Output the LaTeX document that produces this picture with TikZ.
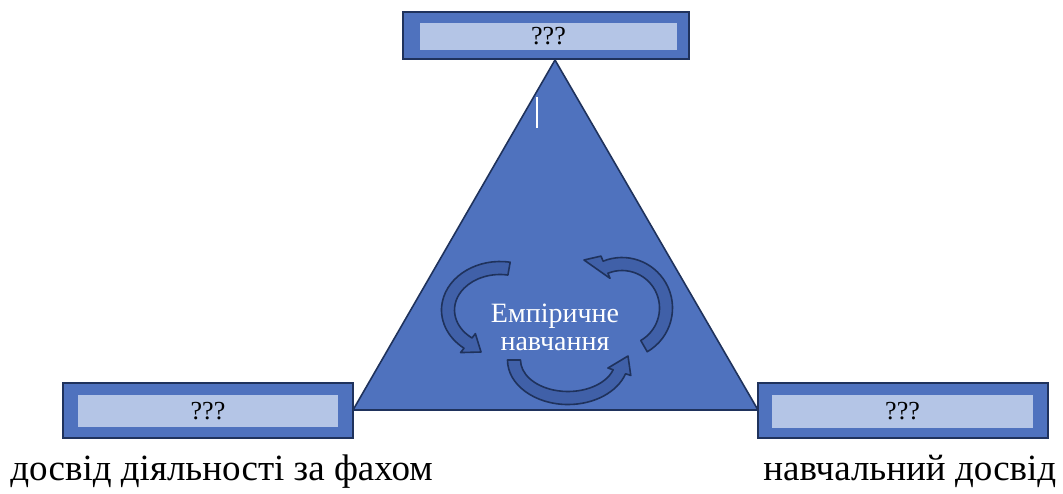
\documentclass[tikz,border=0pt]{standalone}
\usepackage{fontspec}
\setmainfont{Liberation Serif}
\newfontfamily\timesfont{Liberation Serif}
\definecolor{triblue}{RGB}{79,114,190}
\definecolor{paleblue}{RGB}{180,197,230}
\definecolor{navyline}{RGB}{31,50,92}
\definecolor{arrowblue}{RGB}{64,96,168}

% curved block arrow: centre x, centre y, x radius, y radius, start, end, tip
\newcommand{\cyclearrow}[7]{%
  \pgfmathsetmacro\rxo{#3+6.5}\pgfmathsetmacro\ryo{#4+6.5}%
  \pgfmathsetmacro\rxi{#3-6.5}\pgfmathsetmacro\ryi{#4-6.5}%
  \filldraw[cycarrow] ({#1+\rxo*cos(#5)},{#2+\ryo*sin(#5)})
    arc[start angle=#5, end angle=#6, x radius=\rxo, y radius=\ryo]
    -- ({#1+(#3+12)*cos(#6)},{#2+(#4+12)*sin(#6)}) -- #7
    -- ({#1+(#3-12)*cos(#6)},{#2+(#4-12)*sin(#6)})
    -- ({#1+\rxi*cos(#6)},{#2+\ryi*sin(#6)})
    arc[start angle=#6, end angle=#5, x radius=\rxi, y radius=\ryi] -- cycle;}

\begin{document}
\begin{tikzpicture}[x=0.5pt,y=-0.5pt,
    outerbox/.style={draw=navyline, line width=1.2pt, fill=triblue, inner sep=0pt},
    innerbox/.style={fill=paleblue, inner sep=0pt, font=\timesfont\fontsize{13}{15}\selectfont},
    caption/.style={anchor=base west, inner sep=0pt, font=\timesfont\fontsize{18.5}{21}\selectfont},
    cycarrow/.style={fill=arrowblue, draw=navyline, line width=0.8pt, line join=round}]
    \useasboundingbox (0,0) rectangle (1063,493);
    % triangle
    \coordinate (apex) at (555,60);
    \coordinate (baseL) at (353,410);
    \coordinate (baseR) at (758,410);
    \filldraw[fill=triblue, draw=navyline, line width=0.8pt] (apex) -- (baseL) -- (baseR) -- cycle;
    \draw[white, line width=1pt] (537,97) -- (537,128);
    % cycle of arrows
    \cyclearrow{500}{310}{52}{42}{-80}{-232}{(481,352)}
    \cyclearrow{568}{360}{54}{38}{180}{18}{(628,356)}
    \cyclearrow{622}{308}{44}{44}{60}{-112}{(584,260)}
    \node[text=white, align=center, inner sep=0pt, font=\timesfont\fontsize{14}{14}\selectfont] (core) at (555,327) {Емпіричне\\навчання};
    % boxes
    \node[outerbox, minimum width=143pt, minimum height=23.5pt] (topbox) at (546,35.5) {};
    \node[innerbox, minimum width=128.5pt, minimum height=13.5pt] (toptext) at (548.5,36.5) {???};
    \node[outerbox, minimum width=145pt, minimum height=27.5pt] (leftbox) at (208,410.5) {};
    \node[innerbox, minimum width=130pt, minimum height=16pt] (lefttext) at (208,411) {???};
    \node[outerbox, minimum width=145pt, minimum height=27.5pt] (rightbox) at (903,410.5) {};
    \node[innerbox, minimum width=130.5pt, minimum height=16.5pt] (righttext) at (902.5,411.5) {???};
    % captions
    \node[caption] (leftcap) at (10,480) {досвід діяльності за фахом};
    \node[caption] (rightcap) at (763,480) {навчальний досвід};
\end{tikzpicture}
\end{document}
